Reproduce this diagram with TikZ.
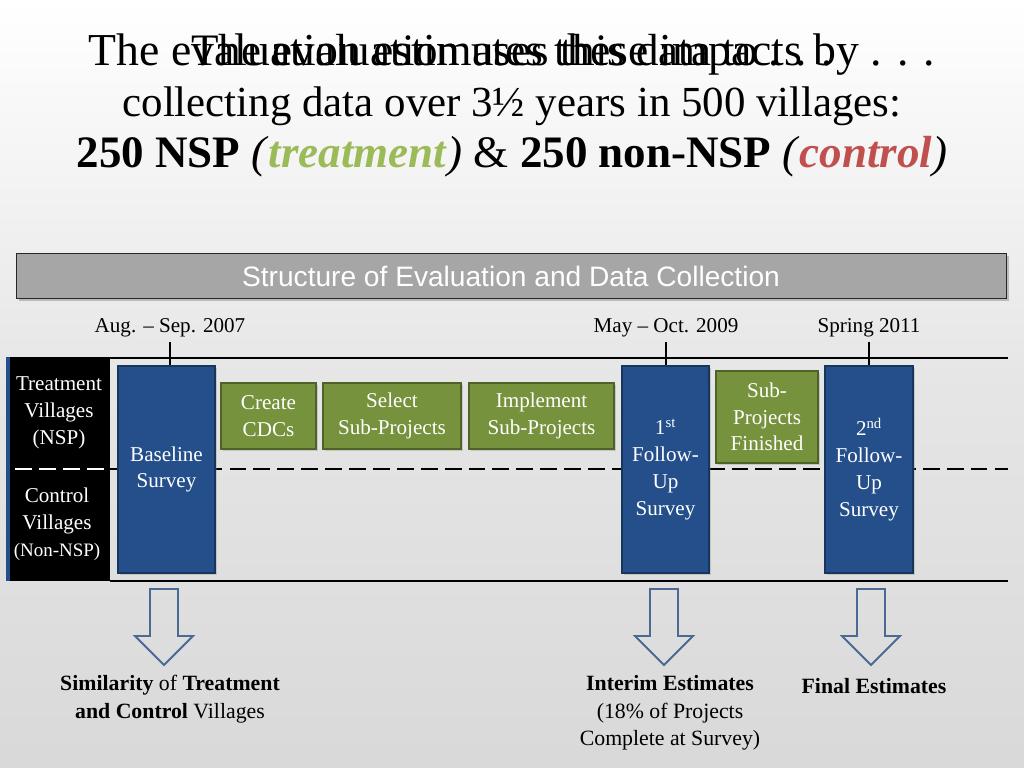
\documentclass[tikz,border=0pt]{standalone}
\usepackage{fontspec}
\setmainfont{Liberation Serif}
\setsansfont{Liberation Sans}
\usepackage{xcolor}
\usepackage{tikz}
\usetikzlibrary{calc}
\usetikzlibrary{shadows}
\tikzset{>=latex}
\definecolor{surveyblue}{HTML}{244F8A}
\definecolor{surveyedge}{HTML}{17365D}
\definecolor{phasegreen}{HTML}{76923C}
\definecolor{phaseedge}{HTML}{4F6228}
\definecolor{treatgreen}{HTML}{9BBB59}
\definecolor{ctrlred}{HTML}{C0504D}
\definecolor{arrowblue}{HTML}{4A6A94}
\definecolor{bannergray}{HTML}{A6A6A6}
\tikzset{
  titleline/.style={anchor=base,font=\fontsize{30.5}{36}\selectfont},
  banner/.style={draw=gray!30!black,fill=bannergray,minimum width=24.75cm,minimum height=1.125cm,
    text=white,font=\sffamily\fontsize{20}{24}\selectfont,
    drop shadow={opacity=0.45,shadow xshift=2pt,shadow yshift=-2pt}},
  surveybox/.style={draw=surveyedge,line width=1.5pt,fill=surveyblue,text=white,align=center,
    minimum height=5.18cm,inner sep=0pt,font=\fontsize{15}{19}\selectfont,
    drop shadow={opacity=0.3,shadow xshift=1.5pt,shadow yshift=-1.5pt}},
  phasebox/.style={draw=phaseedge,line width=1.5pt,fill=phasegreen,text=white,align=center,
    inner sep=0pt,font=\fontsize{15}{19}\selectfont,
    drop shadow={opacity=0.3,shadow xshift=1.5pt,shadow yshift=-1.5pt}},
  villtext/.style={text=white,align=center,font=\fontsize{15}{19}\selectfont},
  datelabel/.style={font=\fontsize{15}{19}\selectfont},
  outcome/.style={align=center,font=\fontsize{15.5}{19.5}\selectfont},
  hollowarrow/.style={draw=arrowblue,line width=1.4pt,line join=miter},
  timeline/.style={line width=1.4pt},
}

\begin{document}
\begin{tikzpicture}[x=0.025cm,y=-0.025cm]
\shade[top color=white,bottom color=gray!30,middle color=gray!20] (0,0) rectangle (1024,768);
\useasboundingbox (0,0) rectangle (1024,768);

% title
\node[titleline,font=\fontsize{32.5}{36}\selectfont] (tA) at (512,66) {The evaluation estimates these impacts by . . .};
\node[titleline,font=\fontsize{32}{36}\selectfont] (tB) at (512,66) {The evaluation uses this data to . . .};
\node[titleline] (tC) at (512,117) {collecting data over 3½ years in 500 villages:};
\node[titleline,font=\fontsize{32}{36}\selectfont] (tD) at (512,168) {\textbf{250 NSP} \textit{(}\textcolor{treatgreen}{\textbf{\textit{treatment}}}\textit{)} \& \textbf{250 non-NSP} \textit{(}\textcolor{ctrlred}{\textbf{\textit{control}}}\textit{)}};

\node[banner] (head) at (511,276) {Structure of Evaluation and Data Collection};

% timeline frame
\draw[timeline] (110,358) -- (1008,358);
\draw[timeline] (110,581) -- (1008,581);
\draw[timeline,dash pattern=on 12pt off 5pt] (110,469) -- (1008,469);

\node[fill=black,minimum width=2.55cm,minimum height=5.6cm,inner sep=0pt] (vill) at (59,469) {};
\draw[surveyblue,line width=3pt] (vill.north west) -- (vill.south west);
\draw[white,timeline,dash pattern=on 12pt off 5pt] (15,469) -- (108,469);
\node[villtext] (treat) at (59,413) {Treatment\\Villages\\(NSP)};
\node[villtext] (ctrl) at (57,524) {Control\\Villages\\{\fontsize{13.5}{19}\selectfont(Non-NSP)}};

% surveys
\node[surveybox,minimum width=2.43cm] (base) at (166.5,469.5) {Baseline\\Survey};
\node[surveybox,minimum width=2.18cm] (fu1) at (665.5,469.5) {1\textsuperscript{st}\\Follow-\\Up\\Survey};
\node[surveybox,minimum width=2.2cm] (fu2) at (869,469.5) {2\textsuperscript{nd}\\Follow-\\Up\\Survey};

% phases
\node[phasebox,minimum width=2.38cm,minimum height=1.65cm] (cdc) at (268.5,416) {Create\\CDCs};
\node[phasebox,minimum width=3.45cm,minimum height=1.65cm] (select) at (392,416) {Select\\Sub-Projects};
\node[phasebox,minimum width=3.63cm,minimum height=1.65cm] (impl) at (541.5,416) {Implement\\Sub-Projects};
\node[phasebox,minimum width=2.55cm,minimum height=2.3cm] (fin) at (767,417) {Sub-\\Projects\\Finished};

% dates
\node[datelabel] (d1) at (170,328) {Aug. -- Sep. 2007};
\node[datelabel] (d2) at (666,328) {May -- Oct. 2009};
\node[datelabel] (d3) at (869,328) {Spring 2011};
\draw[timeline] (d1.south) -- (d1.south |- base.north);
\draw[timeline] (d2.south) -- (d2.south |- fu1.north);
\draw[timeline] (d3.south) -- (d3.south |- fu2.north);

% results
\foreach \x in {164,664,871}
  \draw[hollowarrow] (\x-14,589) -- (\x+14,589) -- (\x+14,636) -- (\x+29,636) -- (\x,665)
    -- (\x-29,636) -- (\x-14,636) -- cycle;
\node[outcome] (sim) at (170,699) {\textbf{Similarity} of \textbf{Treatment}\\\textbf{and Control} Villages};
\node[outcome] (interim) at (670,713) {\textbf{Interim Estimates}\\(18\% of Projects\\Complete at Survey)};
\node[outcome] (final) at (874,686) {\textbf{Final Estimates}};
\end{tikzpicture}
\end{document}
